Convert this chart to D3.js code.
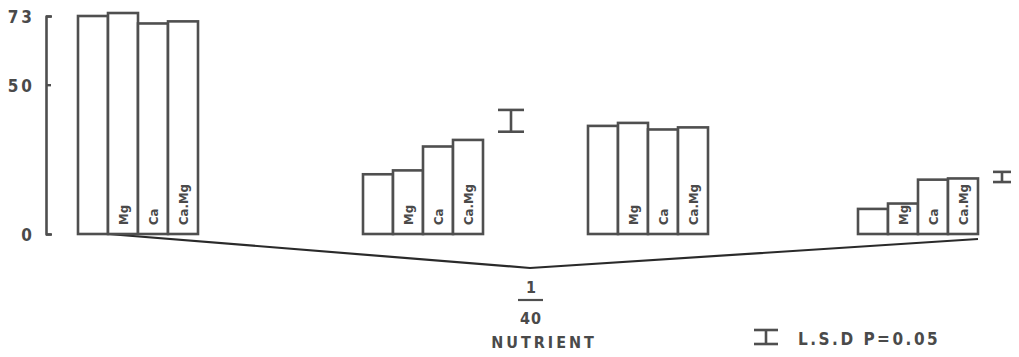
<!DOCTYPE html>
<html>
<head>
<meta charset="utf-8">
<script src="https://cdn.jsdelivr.net/npm/d3@7"></script>
<style>
  html, body { margin: 0; padding: 0; background: #fff; }
  svg { display: block; }
  text { font-family: "DejaVu Sans Condensed", "DejaVu Sans", sans-serif; font-weight: bold; fill: #4a4a4a; }
</style>
</head>
<body>
<svg id="chart" width="1019" height="357"></svg>
<script>
// Treatment groups (left to right) and the four salt treatments within each group
const groups = ["g1", "g2", "g3", "g4"];
const treatments = ["Control", "Mg", "Ca", "Ca.Mg"];
const treatmentLabels = ["", "Mg", "Ca", "Ca.Mg"];

// Bar values per group, in treatment order
const valuesG1 = [73, 74, 70.5, 71.2];
const valuesG2 = [20, 21.3, 29.3, 31.5];
const valuesG3 = [36.2, 37.2, 35, 35.7];
const valuesG4 = [8.4, 10.2, 18.2, 18.6];

// Least significant differences (P = 0.05) and the level each bar is centred on
const lsdValues = [7.3, 3.4];
const lsdCentres = [37.9, 19.1];

// Axis ticks
const yTicks = [0, 50, 73];

const fractionTop = "1";
const fractionBottom = "40";
const nutrientLabel = "NUTRIENT";
const legendLabel = "L.S.D P=0.05";

const seriesByGroup = [valuesG1, valuesG2, valuesG3, valuesG4];

const svg = d3.select("#chart");
const ink = "#4f4f4f";

// Scales
const y = d3.scaleLinear().domain([0, 73]).range([234, 16]);
const groupX = d3.scaleOrdinal().domain(groups).range([78, 363, 588, 858]);
const barX = d3.scaleBand().domain(treatments).range([0, 120]).padding(0);

// Y axis with inward ticks and hooked ends
const axis = d3.axisLeft(y).tickValues(yTicks).tickSizeInner(-5).tickSizeOuter(-6).tickPadding(11).tickFormat(d3.format("d"));
const axisG = svg.append("g").attr("transform", "translate(46,0)").call(axis);
axisG.select(".domain").attr("stroke", ink).attr("stroke-width", 2.6).attr("fill", "none").attr("stroke-linejoin", "round");
axisG.selectAll(".tick line").attr("stroke", ink).attr("stroke-width", 2.4);
axisG.selectAll(".tick text")
  .style("font-size", "17px").style("letter-spacing", "3px")
  .attr("fill", ink).attr("dy", "0.38em");

// Connecting base line: from the first group to the centre point and up to the last group
const apex = [530, y(0) + 34];
const lineStart = [groupX("g1") + barX("Mg"), y(0)];
const lineEnd = [groupX("g4") + barX("Ca.Mg") + barX.bandwidth(), y(0) + 5];
svg.append("path")
  .attr("d", d3.line()([lineStart, apex, lineEnd]))
  .attr("fill", "none").attr("stroke", "#2a2a2a").attr("stroke-width", 2.2);

// Bars
const barData = [];
groups.forEach((g, gi) => {
  treatments.forEach((t, ti) => {
    barData.push({ group: g, treatment: t, label: treatmentLabels[ti], value: seriesByGroup[gi][ti] });
  });
});

const bars = svg.append("g").selectAll("g").data(barData).join("g")
  .attr("transform", d => `translate(${groupX(d.group) + barX(d.treatment)},0)`);

bars.append("rect")
  .attr("x", 0)
  .attr("y", d => y(d.value))
  .attr("width", barX.bandwidth())
  .attr("height", d => y(0) - y(d.value))
  .attr("fill", "#fff")
  .attr("stroke", ink)
  .attr("stroke-width", 2.6);

bars.filter(d => d.label)
  .append("text")
  .attr("transform", d => `translate(${barX.bandwidth() / 2 + 5},${y(0) - 9}) rotate(-90)`)
  .attr("text-anchor", "start")
  .style("font-size", "13px")
  .attr("fill", ink)
  .text(d => d.label);

// L.S.D. markers
function ibeam(g, cx, yTop, yBot, half) {
  g.append("line").attr("x1", cx - half).attr("x2", cx + half).attr("y1", yTop).attr("y2", yTop);
  g.append("line").attr("x1", cx - half).attr("x2", cx + half).attr("y1", yBot).attr("y2", yBot);
  g.append("line").attr("x1", cx).attr("x2", cx).attr("y1", yTop).attr("y2", yBot);
}
const lsdG = svg.append("g").attr("stroke", ink).attr("stroke-width", 2.6);
const lsdX = [511, 1002];
const lsdHalf = [13, 9];
lsdValues.forEach((v, i) => {
  ibeam(lsdG, lsdX[i], y(lsdCentres[i] + v / 2), y(lsdCentres[i] - v / 2), lsdHalf[i]);
});

// Centre label: 1/40 NUTRIENT
svg.append("text").attr("x", 531).attr("y", 293).attr("text-anchor", "middle")
  .style("font-size", "16px").text(fractionTop);
svg.append("line").attr("x1", 518).attr("x2", 543).attr("y1", 300).attr("y2", 300)
  .attr("stroke", ink).attr("stroke-width", 2.2);
svg.append("text").attr("x", 531).attr("y", 324).attr("text-anchor", "middle")
  .style("font-size", "16px").style("letter-spacing", "1px").text(fractionBottom);
svg.append("text").attr("x", 544).attr("y", 348).attr("text-anchor", "middle")
  .style("font-size", "16px").style("letter-spacing", "3px").text(nutrientLabel);

// Legend
const legG = svg.append("g").attr("stroke", ink).attr("stroke-width", 2.6);
ibeam(legG, 766, 330, 344, 12);
svg.append("text").attr("x", 798).attr("y", 345)
  .style("font-size", "17px").style("letter-spacing", "2.5px").text(legendLabel);
</script>
</body>
</html>
